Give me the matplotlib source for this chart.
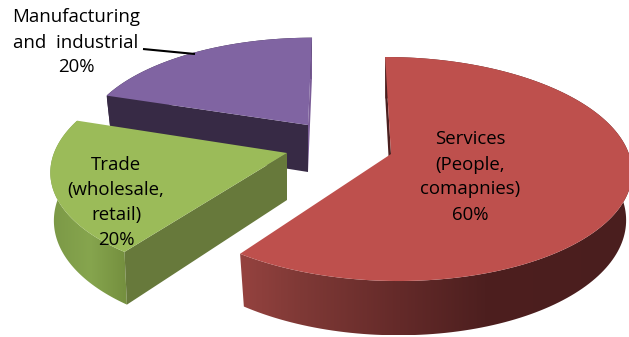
import numpy as np
import matplotlib
matplotlib.use('Agg')
import matplotlib.pyplot as plt
from matplotlib.colors import to_rgb
from matplotlib.patches import Polygon

plt.rcParams['font.family'] = ['Open Sans', 'DejaVu Sans']

labels = ['Services\n(People,\ncomapnies)\n60%',
          'Trade\n(wholesale,\nretail)\n20%',
          'Manufacturing\nand  industrial\n20%']
shares = [60, 20, 20]

# pixel geometry of the exploded slices (apex, radius, vertical radius, shear, rim shrink)
geom = [
    {'cx': 391, 'cy': 154, 'R': 238, 'k': 110, 'shear': 0.06, 'shrink': 0.975},
    {'cx': 287, 'cy': 153, 'R': 233, 'k': 109, 'shear': -0.09, 'shrink': 0.985},
    {'cx': 308, 'cy': 125, 'R': 222, 'k': 99, 'shear': -0.046, 'shrink': 0.975},
]
top_colors = ['#BE504D', '#9BBB59', '#8064A2']
# flat faces that can be seen: (0 = first cut, -1 = last cut, colour)
cut_faces = [
    [(0, '#4A1F1F')],
    [(0, '#67793B')],
    [(-1, '#7A5C97'), (0, '#372A45')],
]
# gradient stops along x for the curved walls
wall_stops = [
    ([243, 300, 400, 485, 629], ['#94423F', '#7F3936', '#642A29', '#4D1F1F', '#4A1E1E']),
    ([50, 90, 125], ['#7B9846', '#86A54E', '#75903F']),
    ([100, 320], ['#372A45', '#372A45']),
]
label_pos = [(470, 177), (116, 202.5), (76, 42.5)]

PERSP = 0.134
DEPTH = 47


def project(theta, g, bottom=False):
    c, s = np.cos(theta), np.sin(theta)
    scale = 1 / (1 + PERSP * s)
    x = g['R'] * c * scale
    y = -g['k'] * s * scale
    x = x + g['shear'] * y
    if bottom:
        x = x * g['shrink']
        y = y + DEPTH * scale
    return g['cx'] + x, g['cy'] + y


def apex(g, bottom=False):
    return (g['cx'], g['cy'] + (DEPTH if bottom else 0))


def draw_wall(ax, xt, yt, xb, yb, stops, z):
    # horizontal gradient clipped to the outline of the wall
    poly = Polygon(np.c_[np.r_[xt, xb[::-1]], np.r_[yt, yb[::-1]]], closed=True, fc='none', ec='none', zorder=z)
    ax.add_patch(poly)
    x0, x1 = min(xt.min(), xb.min()), max(xt.max(), xb.max())
    y0, y1 = min(yt.min(), yb.min()), max(yt.max(), yb.max())
    xs = np.linspace(x0, x1, 300)
    rgb = np.array([to_rgb(c) for c in stops[1]])
    img = np.stack([np.interp(xs, stops[0], rgb[:, i]) for i in range(3)], axis=1)[None, :, :]
    im = ax.imshow(img, extent=(x0, x1, y1, y0), aspect='auto', zorder=z, interpolation='bilinear')
    im.set_clip_path(poly)


def draw_slice(ax, theta1, theta2, g, top, faces, stops, z):
    # theta1 > theta2, slices run clockwise
    th = np.linspace(theta1, theta2, 160)
    xt, yt = project(th, g)
    xb, yb = project(th, g, bottom=True)

    draw_wall(ax, xt, yt, xb, yb, stops, z)

    for j, col in faces:
        ax.fill([xt[j], apex(g)[0], apex(g, True)[0], xb[j]],
                [yt[j], apex(g)[1], apex(g, True)[1], yb[j]],
                color=col, lw=0, zorder=z + 0.1)

    # top surface
    ax.fill(np.r_[apex(g)[0], xt], np.r_[apex(g)[1], yt], color=top, lw=0, zorder=z + 0.2)


fig = plt.figure(figsize=(6.29, 3.37), dpi=100)
ax = fig.add_axes([0, 0, 1, 1])

fractions = np.array(shares) / sum(shares)
edges = np.pi / 2 - 2 * np.pi * np.r_[0, np.cumsum(fractions)]

# back slices first so the nearer ones sit on top
for i, z in zip([2, 1, 0], [1, 2, 3]):
    draw_slice(ax, edges[i], edges[i + 1], geom[i], top_colors[i], cut_faces[i], wall_stops[i], z)

ax.set_xlim(0, 629)
ax.set_ylim(337, 0)
ax.axis('off')

# leader line of the manufacturing label
ax.plot([143, 195], [49, 54], color='black', lw=1.5, solid_capstyle='butt', zorder=5)

for lab, (x, y) in zip(labels, label_pos):
    ax.text(x, y, lab, ha='center', va='center', fontsize=13.4, linespacing=1.5,
            color='black', zorder=6)

fig.savefig('out.png', dpi=100, facecolor='white')
